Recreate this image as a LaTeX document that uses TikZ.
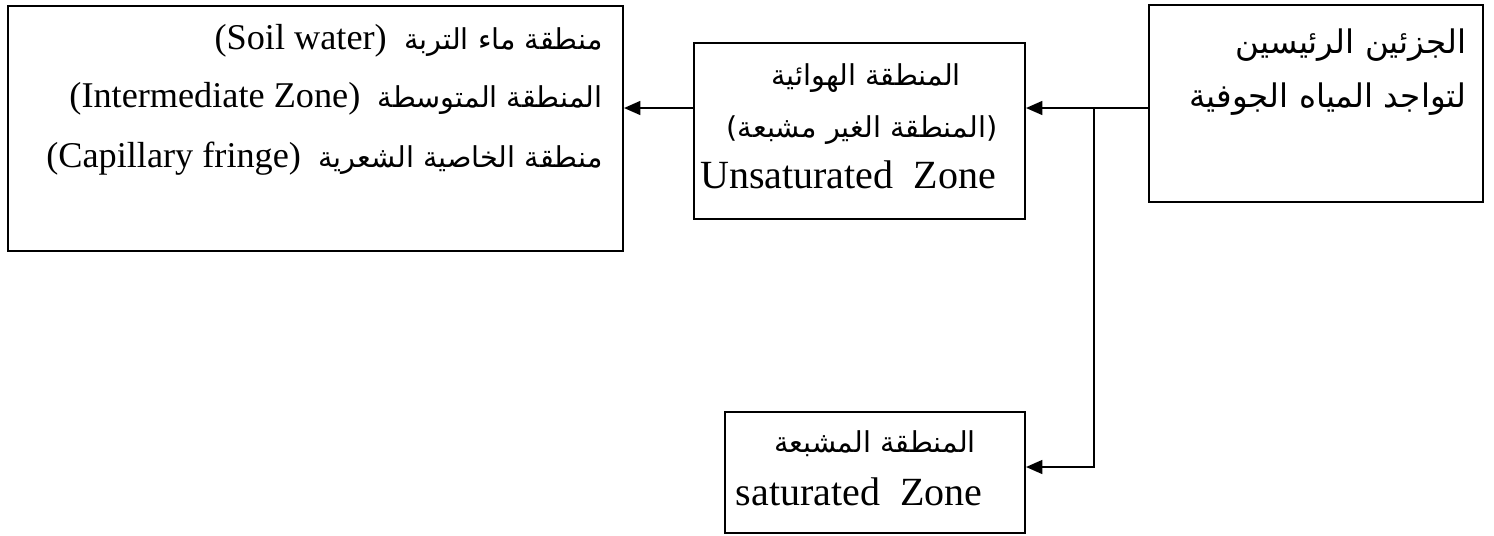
\documentclass[tikz,border=0pt]{standalone}
\usepackage{fontspec}
\setmainfont{Liberation Serif}
\newfontfamily\arabicfont[Script=Arabic]{DejaVu Sans}
\TeXXeTstate=1
\usetikzlibrary{arrows.meta}
\newcommand\arsz[1]{\arabicfont\fontsize{#1}{#1}\selectfont}
\newcommand\latsz[1]{\fontsize{#1}{#1}\selectfont}
\begin{document}
\begin{tikzpicture}[x=0.4pt,y=-0.4pt,
  box/.style={draw, line width=0.8pt, inner sep=0pt, anchor=north west},
  txt/.style={inner sep=0pt},
  arr/.style={line width=0.8pt, -{Triangle[length=6.5pt,width=5.5pt]}}]
\useasboundingbox (0,0) rectangle (1494,535);
% boxes
\node[box, minimum width=246pt, minimum height=98pt] (left) at (7,5) {};
\node[box, minimum width=132.4pt, minimum height=70.4pt] (mid) at (693,42) {};
\node[box, minimum width=133.6pt, minimum height=78.8pt] (right) at (1148,4) {};
\node[box, minimum width=120pt, minimum height=48.4pt] (bot) at (724,411) {};
% left box text
\node[txt, anchor=base east] (l1) at (603,49) {{\latsz{14.5}(Soil water)}\hspace{7pt}{\arsz{11.5}\beginR منطقة ماء التربة\endR}};
\node[txt, anchor=base east] (l2) at (603,107) {{\latsz{14.5}(Intermediate Zone)}\hspace{7pt}{\arsz{11.5}\beginR المنطقة المتوسطة\endR}};
\node[txt, anchor=base east] (l3) at (603,167) {{\latsz{14.5}(Capillary fringe)}\hspace{7pt}{\arsz{11.5}\beginR منطقة الخاصية الشعرية\endR}};
% middle box text
\node[txt, anchor=base] (m1) at (866,85) {\arsz{11.5}\beginR المنطقة الهوائية\endR};
\node[txt, anchor=base] (m2) at (862,137) {\arsz{11.5}\beginR (المنطقة الغير مشبعة)\endR};
\node[txt, anchor=base] (m3) at (848,188) {\latsz{16}Unsaturated\ \ Zone};
% right box text
\node[txt, anchor=base east] (r1) at (1467,53) {\arsz{13}\beginR الجزئين الرئيسين\endR};
\node[txt, anchor=base east] (r2) at (1467,107) {\arsz{13}\beginR لتواجد المياه الجوفية\endR};
% bottom box text
\node[txt, anchor=base] (b1) at (875,452) {\arsz{11.5}\beginR المنطقة المشبعة\endR};
\node[txt, anchor=base] (b2) at (859,505) {\latsz{16}saturated\ \ Zone};
% connectors
\coordinate (lvl) at (0,108);
\coordinate (lvl2) at (0,467);
\coordinate (br) at (1094,108);
\draw[arr] (mid.west |- lvl) -- (left.east |- lvl);
\draw[arr] (right.west |- lvl) -- (mid.east |- lvl);
\draw[arr] (br) -- (br |- lvl2) -- (bot.east |- lvl2);
\end{tikzpicture}
\end{document}
